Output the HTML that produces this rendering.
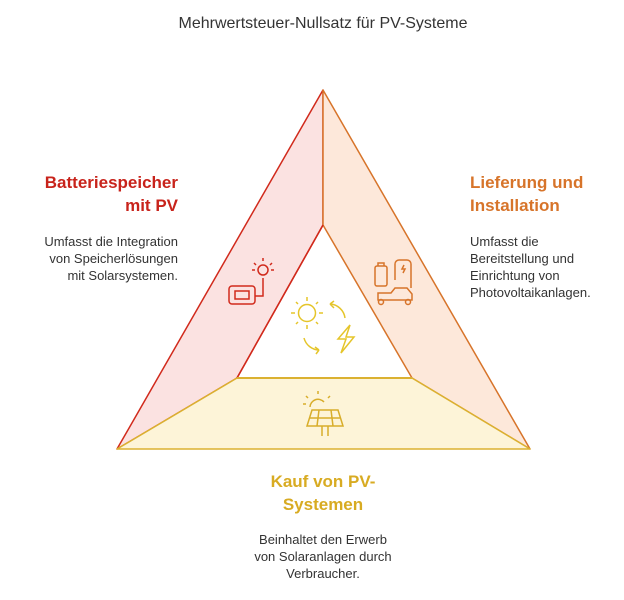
<!DOCTYPE html>
<html><head><meta charset="utf-8"><style>
body{margin:0;width:624px;height:600px;background:#fff;font-family:"Liberation Sans",sans-serif;overflow:hidden;position:relative}
.t{position:absolute;font-size:13px;color:#333;line-height:17px}
.h{position:absolute;font-size:17px;font-weight:bold;line-height:23px}
</style></head><body>
<svg width="624" height="600" style="position:absolute;left:0;top:0">
<text x="323" y="28" text-anchor="middle" font-family="Liberation Sans" font-size="16" fill="#333">Mehrwertsteuer-Nullsatz für PV-Systeme</text>
<polygon points="323,90 117,449 237,378 323,225" fill="#fbe2e1" stroke="#d12a1c" stroke-width="1.5" stroke-linejoin="round"/>
<polygon points="323,90 323,225 412,378 530,449" fill="#fde8da" stroke="#d7742a" stroke-width="1.5" stroke-linejoin="round"/>
<polygon points="117,449 530,449 412,378 237,378" fill="#fdf4d8" stroke="#dbb130" stroke-width="1.5" stroke-linejoin="round"/>
<line x1="237" y1="378" x2="323" y2="225" stroke="#d12a1c" stroke-width="1.5"/>
<line x1="237" y1="378" x2="412" y2="378" stroke="#dbb130" stroke-width="2"/>
<g fill="none" stroke="#d12a1c" stroke-width="1.5">
<rect x="229" y="286" width="26" height="18" rx="3"/><rect x="235" y="291" width="14" height="8"/>
<path d="M255 296 H263 V278"/><circle cx="263" cy="270" r="5"/>
<path d="M263 258v3M254 263l2 2M272 263l-2 2M252 270h3M274 270h-3"/>
</g>
<g fill="none" stroke="#d7742a" stroke-width="1.5">
<rect x="375" y="266" width="12" height="20" rx="2"/><path d="M378 266v-3h6v3"/>
<path d="M395 280v-16a4 4 0 0 1 4-4h8a4 4 0 0 1 4 4v24"/><path d="M404 265l-2 4h3l-2 4"/>
<path d="M378 300h34v-6l-5-6h-12l-4 5h-13z"/><circle cx="381" cy="302" r="2.5"/><circle cx="408" cy="302" r="2.5"/>
</g>
<g fill="none" stroke="#e5c52a" stroke-width="1.5">
<circle cx="307" cy="313" r="8.5"/>
<path d="M307 297v4M307 325v4M291 313h4M319 313h4M296 302l2 2M318 302l-2 2M296 324l2-2M318 324l-2-2"/>
<path d="M345 318a16 16 0 0 0-15-14M330 304l4-3M330 304l4 4"/>
<path d="M304 338a16 16 0 0 0 15 12M319 350l-3 4M319 350l-4-3"/>
<path d="M350 325l-12 14h8l-5 14 13-16h-8z"/>
</g>
<g fill="none" stroke="#d8ad2a" stroke-width="1.5">
<path d="M310 407a8 8 0 0 1 14-5"/><path d="M318 391v3M306 396l2 2M330 396l-2 2M303 404h3"/>
<path d="M312 410h26l5 16h-36z"/><path d="M309 418h32M319 410l-2 16M331 410l2 16"/>
<path d="M322 426v10M328 426v10"/>
</g>
</svg>
<div class="h" style="right:446px;top:171px;text-align:right;color:#c8231b">Batteriespeicher<br>mit PV</div>
<div class="t" style="right:446px;top:233px;text-align:right">Umfasst die Integration<br>von Speicherlösungen<br>mit Solarsystemen.</div>
<div class="h" style="left:470px;top:171px;color:#d7742a">Lieferung und<br>Installation</div>
<div class="t" style="left:470px;top:233px">Umfasst die<br>Bereitstellung und<br>Einrichtung von<br>Photovoltaikanlagen.</div>
<div class="h" style="left:223px;width:200px;top:470px;text-align:center;color:#d8ab22">Kauf von PV-<br>Systemen</div>
<div class="t" style="left:223px;width:200px;top:531px;text-align:center">Beinhaltet den Erwerb<br>von Solaranlagen durch<br>Verbraucher.</div>
</body></html>
